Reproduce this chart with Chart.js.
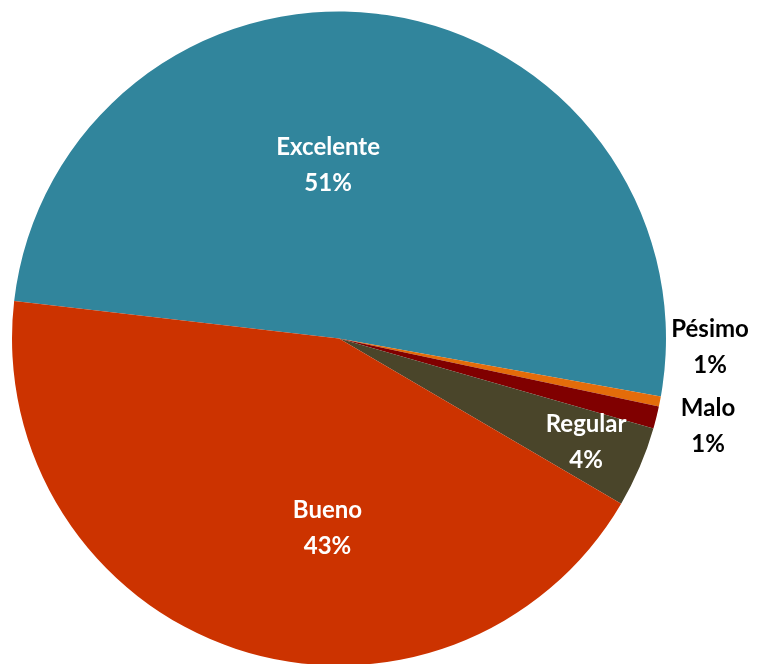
<!DOCTYPE html>
<html>
<head>
<meta charset="utf-8">
<script src="https://cdn.jsdelivr.net/npm/chart.js@4"></script>
<style>
  html, body { margin: 0; padding: 0; background: #fff; overflow: hidden; }
  #wrap { width: 757px; height: 668px; }
</style>
</head>
<body>
<div id="wrap"><canvas id="pieChart"></canvas></div>
<script>
// Data (percent of answers), in clockwise order starting from the left edge
const categories = ["Excelente", "Pésimo", "Malo", "Regular", "Bueno"];
const values = [51.0, 0.5, 1.1, 4.0, 43.4];
const colors = ["#31859C", "#E46C0A", "#800000", "#4A452A", "#CC3300"];

// Label placement: distance as fraction of radius, angle nudge in degrees, text colour
const labelRadius = [0.53, 1.135, 1.16, 0.82, 0.58];
const labelNudge = [-12, -9.8, -0.6, -0.3, -15];
const labelColor = ["#fff", "#000", "#000", "#fff", "#fff"];

// Draw "Name / NN%" labels on top of the slices
const pieLabels = {
  id: "pieLabels",
  afterDatasetsDraw(chart) {
    const ctx = chart.ctx;
    const meta = chart.getDatasetMeta(0);
    const total = values.reduce((a, b) => a + b, 0);
    ctx.save();
    ctx.font = "bold 24px Lato";
    ctx.textAlign = "center";
    ctx.textBaseline = "middle";
    meta.data.forEach(function(arc, i) {
      const p = arc.getProps(["x", "y", "startAngle", "endAngle", "outerRadius"], true);
      const mid = (p.startAngle + p.endAngle) / 2 + labelNudge[i] * Math.PI / 180;
      const r = p.outerRadius * labelRadius[i];
      const x = p.x + Math.cos(mid) * r;
      const y = p.y + Math.sin(mid) * r;
      ctx.fillStyle = labelColor[i];
      ctx.fillText(categories[i], x, y - 18);
      ctx.fillText(Math.round(values[i] / total * 100) + "%", x, y + 18);
    });
    ctx.restore();
  }
};

new Chart(document.getElementById("pieChart").getContext("2d"), {
  type: "pie",
  data: {
    labels: categories,
    datasets: [{
      data: values,
      backgroundColor: colors,
      borderWidth: 0
    }]
  },
  options: {
    responsive: true,
    maintainAspectRatio: false,
    animation: false,
    rotation: -83.4,
    layout: { padding: { left: 12, right: 91, top: 11, bottom: 2 } },
    plugins: {
      legend: { display: false },
      tooltip: { enabled: false }
    }
  },
  plugins: [pieLabels]
});
</script>
</body>
</html>
